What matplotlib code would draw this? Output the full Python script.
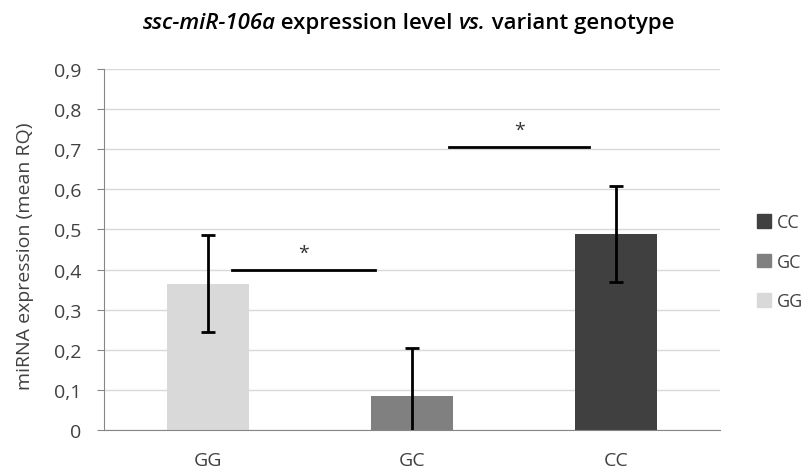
import matplotlib.pyplot as plt
from matplotlib.patches import Patch

plt.rcParams['font.family'] = ['Open Sans', 'DejaVu Sans']

genotypes = ['GG', 'GC', 'CC']
mean_rq = [0.365, 0.085, 0.489]
err = [0.12, 0.12, 0.12]
colors = ['#d9d9d9', '#808080', '#404040']
sig_pairs = [(0.12, 0.82, 0.40), (1.18, 1.87, 0.705)]

fig = plt.figure(figsize=(8.1, 4.77), dpi=100)
ax = fig.add_axes([0.128, 0.0964, 0.761, 0.757])

x = range(len(genotypes))
ax.bar(x, mean_rq, width=0.4, color=colors, zorder=2)
ax.errorbar(x, mean_rq, yerr=err, fmt='none', ecolor='black', elinewidth=2,
            capsize=5, capthick=2, zorder=3)

for x0, x1, y in sig_pairs:
    ax.plot([x0, x1], [y, y], color='black', lw=2, zorder=3)
    ax.text((x0 + x1) / 2, y + 0.02, '*', ha='center', va='bottom', fontsize=14, color='#333333')

ax.set_xlim(-0.51, 2.51)
ax.set_ylim(0, 0.9)
ax.set_yticks([i / 10 for i in range(10)])
ax.set_yticklabels(['0'] + ['0,%d' % i for i in range(1, 10)])
ax.set_xticks(list(x))
ax.set_xticklabels(genotypes)
ax.tick_params(axis='x', length=0, pad=15, labelsize=14, labelcolor='#404040')
ax.tick_params(axis='y', length=5, color='#868686', pad=11, labelsize=14, labelcolor='#404040')
ax.grid(axis='y', color='#d9d9d9', lw=1, zorder=0)
for s in ['top', 'right']:
    ax.spines[s].set_visible(False)
for s in ['left', 'bottom']:
    ax.spines[s].set_color('#868686')
fig.text(25 / 810, 1 - 256 / 477, 'miRNA expression (mean RQ)', rotation=90,
         ha='center', va='center', fontsize=14, color='#404040')

handles = [Patch(color=colors[i]) for i in [2, 1, 0]]
fig.legend(handles, [genotypes[i] for i in [2, 1, 0]], loc='center left',
           bbox_to_anchor=(0.934, 0.449), frameon=False, fontsize=13,
           borderpad=0, borderaxespad=0,
           handlelength=0.8, handleheight=0.8, labelspacing=1.2, handletextpad=0.3,
           labelcolor='#404040')

# title in pieces (italic parts), centred by measuring
parts = [('ssc-miR-106a', 'italic'), (' expression level ', 'normal'),
         ('vs.', 'italic'), (' variant genotype', 'normal')]
r = fig.canvas.get_renderer()
texts = [fig.text(0, 0.94, s, style=st, fontsize=16, fontweight='semibold',
                  va='baseline', color='black')
         for s, st in parts]
widths = [tx.get_window_extent(r).width / fig.bbox.width for tx in texts]
pos = 0.504 - sum(widths) / 2
for tx, w in zip(texts, widths):
    tx.set_x(pos)
    pos += w
fig.savefig('out.png')
